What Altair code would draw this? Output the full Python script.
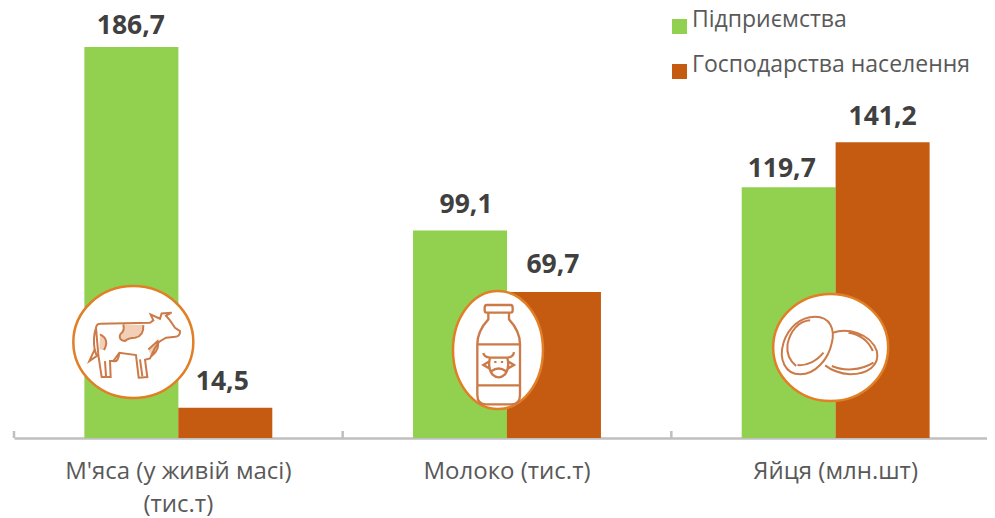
import re
import altair as alt
import pandas as pd

categories = ["М'яса (у живій масі)|(тис.т)", "Молоко (тис.т)", "Яйця (млн.шт)"]
series = ["Підприємства", "Господарства населення"]
enterprise = [186.7, 99.1, 119.7]
household = [14.5, 69.7, 141.2]
labels_enterprise = ["186,7", "99,1", "119,7"]
labels_household = ["14,5", "69,7", "141,2"]
icon_levels = [45.8, 42.0, 43.2]
GREEN, BROWN = "#92D050", "#C55A11"
FONT = "Open Sans"
# hand-placed nudges of the value labels, as in the original slide: (dx, dy)
nudges_enterprise = [(-0.5, -7), (6, -11), (-7, -4)]
nudges_household = [(-3, -12), (-1, -13), (0, -11)]


def shift(path, cx, cy):
    return re.sub(r"(-?\d+\.?\d*),(-?\d+\.?\d*)",
                  lambda m: f"{float(m[1]) - cx:.1f},{float(m[2]) - cy:.1f}", path)


def ellipse(rx, ry):
    k = 0.5523
    return (f"M{-rx},0 C{-rx},{-k*ry:.1f} {-k*rx:.1f},{-ry} 0,{-ry} C{k*rx:.1f},{-ry} {rx},{-k*ry:.1f} {rx},0 "
            f"C{rx},{k*ry:.1f} {k*rx:.1f},{ry} 0,{ry} C{-k*rx:.1f},{ry} {-rx},{k*ry:.1f} {-rx},0 Z")


COW_C = (220, 183)
cow_line = ("M120,128 L270,125 L280,118 L272,100 L300,113 L305,97 L335,95 L318,104 L330,118 L345,140 L360,150 "
            "Q362,168 340,168 L318,170 L298,182 L285,200 L270,232 L255,236 L262,288 L236,290 L228,222 L178,215 "
            "L160,240 L150,240 L152,288 L125,288 L115,222 L108,140 Q110,128 120,128 "
            "M108,140 Q98,170 104,205 L88,240 L110,225 L104,205 "
            "M135,240 L138,285 M240,235 L247,285 M160,240 Q175,245 178,215 "
            "M180,160 Q195,150 190,130 M250,132 Q252,165 225,170 Q205,170 195,180 Q175,178 180,160 "
            "M120,160 Q150,175 132,207 M265,205 L293,180 Q300,205 275,225")
cow_fill = ("M180,160 Q195,150 190,130 L250,132 Q252,165 225,170 Q205,170 195,180 Q175,178 180,160 Z "
            "M120,160 Q150,175 132,207 L118,205 Z M265,205 L293,180 Q300,205 275,225 Z")
MILK_C = (174, 177)
milk_line = ("M140,42 L212,42 Q218,42 218,50 L218,58 Q218,65 212,65 L140,65 Q134,65 134,58 L134,50 Q134,42 140,42 Z "
             "M145,65 L145,85 Q112,120 112,160 L112,312 Q112,340 138,340 L214,340 Q240,340 240,312 L240,160 "
             "Q240,120 207,85 L207,65 M112,160 L240,160 M112,283 L240,283 "
             "M150,200 L202,200 Q210,230 195,250 Q176,268 157,250 Q142,230 150,200 Z "
             "M150,200 Q132,198 130,186 M202,200 Q220,198 222,183 "
             "M146,212 L130,222 L148,232 M206,212 L222,222 L204,232 M155,240 Q176,225 197,240 "
             "M166,210 L166,216 M186,210 L186,216")
EGG_C = (211.5, 184.5)
egg_line = ("M165,92 C210,92 225,130 215,170 C205,220 165,265 120,265 C75,265 55,220 70,170 C85,125 120,92 165,92 Z "
            "M218,140 C260,125 330,140 350,195 C360,240 320,265 270,265 C235,262 210,250 195,238 "
            "M150,103 C115,105 90,135 82,175 C78,205 90,225 108,240 "
            "M112,237 C140,240 170,225 190,200 "
            "M265,140 C300,145 325,165 338,195 "
            "M215,240 C250,255 300,255 340,230")

cat_df = pd.DataFrame({"cat": categories})
rows = []
for i, c in enumerate(categories):
    rows.append({"cat": c, "series": series[0], "value": enterprise[i], "label": labels_enterprise[i],
                 "nudge": nudges_enterprise[i]})
    rows.append({"cat": c, "series": series[1], "value": household[i], "label": labels_household[i],
                 "nudge": nudges_household[i]})
df = pd.DataFrame(rows)
bar_df = df.drop(columns="nudge")

H = 430
x_enc = alt.X("cat:N", sort=categories, title=None,
              scale=alt.Scale(range=[0, 986], paddingInner=0, paddingOuter=0),
              axis=alt.Axis(labelAngle=0, labelAlign="center", ticks=False, domainColor="#BFBFBF", domainWidth=2.5,
                            labelExpr="split(datum.label, '|')", labelFont=FONT, labelFontSize=24,
                            labelColor="#595959", labelPadding=33, labelLineHeight=33, labelLimit=400,
                            grid=False))
y_enc = alt.Y("value:Q", title=None, axis=None, scale=alt.Scale(domain=[0, 205.3], nice=False))
off_enc = alt.XOffset("series:N", sort=series, scale=alt.Scale(paddingOuter=0.75, paddingInner=0))

bars = alt.Chart(bar_df).mark_bar(size=94).encode(
    x=x_enc, y=y_enc, xOffset=off_enc,
    color=alt.Color("series:N", sort=series, scale=alt.Scale(domain=series, range=[GREEN, BROWN]),
                    legend=alt.Legend(title=None, orient="none", legendX=654, legendY=7, symbolType="square",
                                      symbolSize=225, symbolStrokeWidth=0, symbolOpacity=1, labelFont=FONT,
                                      labelFontSize=23, labelColor="#595959", rowPadding=19, labelLimit=400,
                                      labelOffset=1, labelBaseline="alphabetic")))
texts = []
for row in rows:
    one = bar_df[(bar_df.cat == row["cat"]) & (bar_df.series == row["series"])]
    texts.append(alt.Chart(one).mark_text(font=FONT, fontWeight="bold", fontSize=26.5, color="#404040",
                                          baseline="bottom", dx=row["nudge"][0], dy=row["nudge"][1]).encode(
        x=alt.X("cat:N", sort=categories, title=None), y=alt.Y("value:Q", title=None),
        xOffset=alt.XOffset("series:N", sort=series), text="label:N"))

ticks = alt.Chart(cat_df).mark_rule(color="#BFBFBF", strokeWidth=2.5).encode(
    x=alt.X("cat:N", sort=categories, bandPosition=0, title=None),
    y=alt.value(H - 7), y2=alt.value(H))


def icon(i, dx, dy, rx, ry, line, line_c, fill=None, lw=6):
    d = pd.DataFrame({"cat": [categories[i]], "value": [icon_levels[i]]})
    enc = dict(x=alt.X("cat:N", sort=categories, title=None), y=alt.Y("value:Q", title=None))
    base = alt.Chart(d)
    out = [base.mark_point(shape=ellipse(rx, ry), size=4, fill="white", filled=True, stroke="#E17F26",
                           strokeWidth=2.5, opacity=1, xOffset=dx, yOffset=dy).encode(**enc)]
    if fill:
        out.append(base.mark_point(shape=shift(fill, *line_c), size=4 / 9, filled=True, fill="#F2D0B8",
                                   strokeWidth=0, opacity=1, xOffset=dx, yOffset=dy).encode(**enc))
    out.append(base.mark_point(shape=shift(line, *line_c), size=4 / 9, filled=False, stroke="#CB7A48",
                               strokeWidth=lw / 3, opacity=1, xOffset=dx, yOffset=dy).encode(**enc))
    return out


layers = [ticks, bars] + texts
layers += icon(0, -45, 0, 60, 56, cow_line, COW_C, cow_fill)
layers += icon(1, -9, 0, 45, 59, milk_line, MILK_C, None, 7)
layers += icon(2, -5, 0, 57.5, 53.5, egg_line, EGG_C, None, 6)

chart = alt.layer(*layers).properties(
    width=973, height=H, padding={"left": 6, "top": 0, "right": 0, "bottom": 80},
    autosize=alt.AutoSizeParams(type="none"), background="white",
).configure_view(stroke=None)

chart.save("out.html", embed_options={"renderer": "svg", "actions": False})
